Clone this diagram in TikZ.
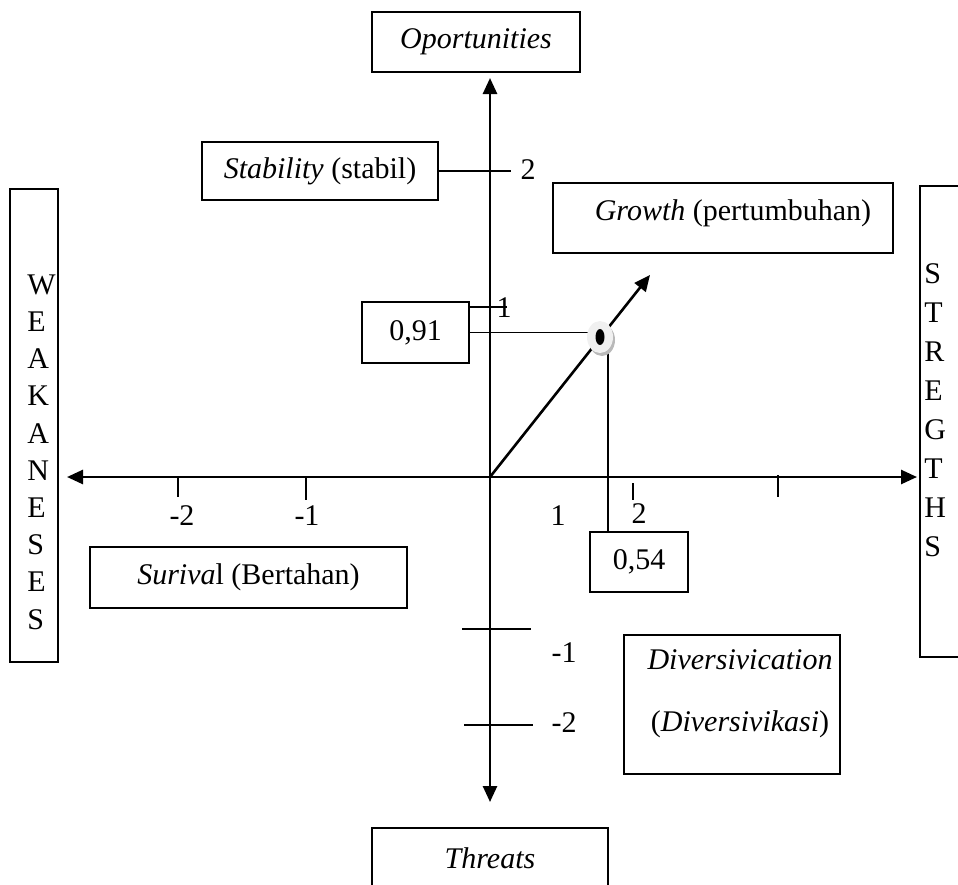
\documentclass[tikz,border=0pt]{standalone}
\usepackage{fontspec}
\setmainfont{Liberation Serif}
\usetikzlibrary{arrows.meta}
\tikzset{quadbox/.style={draw=black, line width=1pt, inner sep=0pt},
axisline/.style={line width=1.3pt, {Triangle[length=8pt,width=7pt]}-{Triangle[length=8pt,width=7pt]}},
tickline/.style={line width=0.9pt},
letters/.style={align=left, inner sep=0pt, font=\fontsize{15}{#1}\selectfont},
letters/.default={18.6pt}}

\begin{document}
\begin{tikzpicture}[x=0.5pt, y=-0.5pt, every node/.style={font=\fontsize{15}{18}\selectfont}]
\useasboundingbox (0,0) rectangle (958,884);
\clip (0,0) rectangle (958,884);
%\draw[step=100,color=gray] (0,0) grid (958,884);
\coordinate (O) at (490,477);
\coordinate (N) at (490,78);
\coordinate (S) at (490,802);
\coordinate (W) at (67,477);
\coordinate (E) at (917,477);
\coordinate (dot) at (600,337);
\coordinate (vtop) at (608,350);

% quadrant boxes
\node[quadbox, minimum width=104pt, minimum height=30pt] (oport) at (476,42) {\textit{Oportunities}};
\node[quadbox, minimum width=118pt, minimum height=29pt] (stab) at (320,171) {\textit{Stability} (stabil)};
\node[quadbox, minimum width=170pt, minimum height=35pt] (growth) at (723,218) {};
\node at (733,213) {\textit{Growth} (pertumbuhan)};
\node[quadbox, minimum width=53.5pt, minimum height=30.5pt] (val91) at (415.5,332.5) {0,91};
\node[quadbox, minimum width=49pt, minimum height=30pt] (val54) at (639,562) {0,54};
\node[quadbox, minimum width=158.5pt, minimum height=30.5pt] (surv) at (248.5,577.5) {\textit{Suriva}l (Bertahan)};
\node[quadbox, minimum width=108pt, minimum height=69.5pt] (divers) at (732,704.5) {};
\node[align=center, font=\fontsize{15}{31}\selectfont] at (740,694) {\textit{Diversivication}\\(\textit{Diversivikasi})};
\node[quadbox, minimum width=118pt, minimum height=46pt] (threat) at (490,874) {};
\node at (490,858) {\textit{Threats}};
\node[quadbox, minimum width=24pt, minimum height=236.5pt] (weak) at (34,425.5) {};
\node[letters, anchor=west] at (27,452) {W\\E\\A\\K\\A\\N\\E\\S\\E\\S};
\node[quadbox, minimum width=35pt, minimum height=235.5pt] (strength) at (955,421.5) {};
\node[letters=19.5pt, anchor=west] at (924,410) {S\\T\\R\\E\\G\\T\\H\\S};

% axes
\draw[axisline] (W) -- (E);
\draw[axisline] (S) -- (N);
\draw[line width=1.3pt, -{Triangle[length=8pt,width=7pt]}] (O) -- (650,275);

% ticks and values
\draw[tickline] (stab.east) -- ++(72,0);
\node at (528,170) {2};
\draw[tickline] (val91.east |- 0,307) -- (507,307);
\node at (504,308) {1};
\draw[tickline] (val91.east) -- ([xshift=-6pt]dot |- val91.east);
\draw[tickline] (vtop) -- (vtop |- val54.north);
\draw[tickline] (178,477) -- (178,497);
\draw[tickline] (306,477) -- (306,500);
\draw[tickline] (633,483) -- (633,500);
\draw[tickline] (778,475) -- (778,497);
\node at (182,516) {-2};
\node at (307,516) {-1};
\node at (558,516) {1};
\node at (639,514) {2};
\draw[tickline] (462,629) -- (531,629);
\draw[tickline] (464,725) -- (533,725);
\node at (564,653) {-1};
\node at (564,723) {-2};

% point
\fill[gray!55] ([shift={(2,3)}]dot) ellipse (13 and 16);
\fill[gray!12] (dot) ellipse (13 and 16);
\fill[black] (dot) ellipse (4.5 and 8);
\end{tikzpicture}
\end{document}
